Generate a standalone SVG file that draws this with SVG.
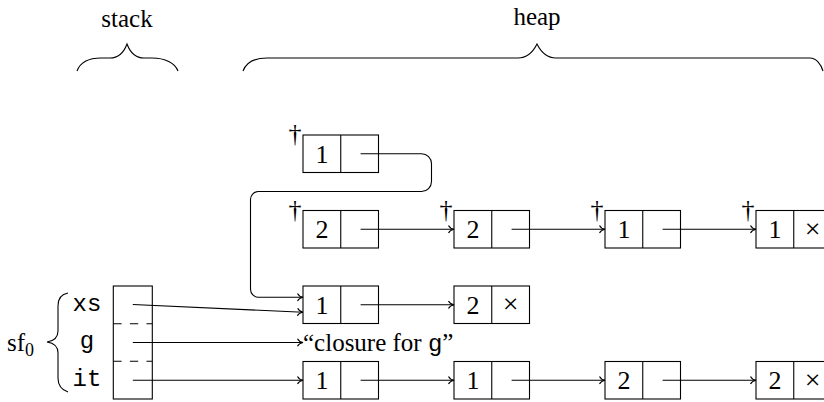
<svg xmlns="http://www.w3.org/2000/svg" width="824" height="402" viewBox="0 0 824 402">
<defs>
<marker id="to" markerUnits="userSpaceOnUse" markerWidth="10" markerHeight="10" refX="0" refY="0" orient="auto" overflow="visible">
<path d="M-5.5,-3.8 C-4.4,-1.6 -1.6,-0.3 0,0 C-1.6,0.3 -4.4,1.6 -5.5,3.8" fill="none" stroke="#000" stroke-width="1.1"/>
</marker>
</defs>
<style>
.box{fill:none;stroke:#000;stroke-width:1.1}
.ln{fill:none;stroke:#000;stroke-width:1.1}
.ar{fill:none;stroke:#000;stroke-width:1.1;marker-end:url(#to)}
.dash{fill:none;stroke:#000;stroke-width:1.1;stroke-dasharray:8.3 8.3}
text{fill:#000}
.t{font-size:25px}
.d{font-size:26px;text-anchor:middle}
.x{font-size:28px;text-anchor:middle}
.m{font-size:24px;text-anchor:middle}
.dg{font-size:26px;text-anchor:middle}
</style>
<g id="labels" font-family="Liberation Serif, DejaVu Serif, serif">
<text class="t" x="127" y="27" text-anchor="middle">stack</text>
<text class="t" x="537" y="25" text-anchor="middle">heap</text>
<path class="ln" d="M77,71 C80,63 88,58 101,58 L110,58 C118,58 124,52 127,44 C130,52 136,58 144,58 L152,58 C165,58 175,63 178,71"/>
<path class="ln" d="M243,71 C246,63 254,58 267,58 L518,58 C528,58 533,52 537,44 C541,52 546,58 556,58 L810,58 C816,58 821,64 823,71"/>
</g>
<g id="frame">
<text class="t" x="7" y="351" font-family="Liberation Serif, DejaVu Serif, serif">sf<tspan font-size="18" dy="5">0</tspan></text>
<path class="ln" d="M68,293 C62,294 58,298 58,306 L58,331 C58,338 54,341 47,342 C54,343 58,346 58,353 L58,378 C58,386 62,390 68,392"/>
<g font-family="Liberation Mono, DejaVu Sans Mono, monospace">
<text class="m" x="87" y="311">xs</text>
<text class="m" x="87" y="348">g</text>
<text class="m" x="87" y="386">it</text>
</g>
<rect class="box" x="113.3" y="286" width="39" height="113"/>
<line class="dash" x1="113.3" y1="323.7" x2="152.3" y2="323.7"/>
<line class="dash" x1="113.3" y1="361.3" x2="152.3" y2="361.3"/>
</g>
<g font-family="Liberation Serif, DejaVu Serif, serif">
<g id="r1c1"><text class="dg" x="295" y="142">†</text><rect class="box" x="303" y="135" width="75.5" height="37.5"/><line class="ln" x1="340.75" y1="135" x2="340.75" y2="172.5"/><text class="d" x="322" y="162.5">1</text></g>
<g id="r2c1"><text class="dg" x="295" y="217.5">†</text><rect class="box" x="303" y="210.5" width="75.5" height="37.5"/><line class="ln" x1="340.75" y1="210.5" x2="340.75" y2="248"/><text class="d" x="322" y="238">2</text></g>
<g id="r2c2"><text class="dg" x="446" y="217.5">†</text><rect class="box" x="454" y="210.5" width="75.5" height="37.5"/><line class="ln" x1="491.75" y1="210.5" x2="491.75" y2="248"/><text class="d" x="473" y="238">2</text></g>
<g id="r2c3"><text class="dg" x="597" y="217.5">†</text><rect class="box" x="605" y="210.5" width="75.5" height="37.5"/><line class="ln" x1="642.75" y1="210.5" x2="642.75" y2="248"/><text class="d" x="624" y="238">1</text></g>
<g id="r2c4"><text class="dg" x="748" y="217.5">†</text><rect class="box" x="756" y="210.5" width="75.5" height="37.5"/><line class="ln" x1="793.75" y1="210.5" x2="793.75" y2="248"/><text class="d" x="775" y="238">1</text><text class="x" x="812.6" y="237.5">×</text></g>
<g id="r3c1"><rect class="box" x="303" y="286" width="75.5" height="37.5"/><line class="ln" x1="340.75" y1="286" x2="340.75" y2="323.5"/><text class="d" x="322" y="313.5">1</text></g>
<g id="r3c2"><rect class="box" x="454" y="286" width="75.5" height="37.5"/><line class="ln" x1="491.75" y1="286" x2="491.75" y2="323.5"/><text class="d" x="473" y="313.5">2</text><text class="x" x="510.6" y="313">×</text></g>
<g id="closure"><text class="t" x="303" y="351">“closure for <tspan font-family="Liberation Mono, DejaVu Sans Mono, monospace" font-size="24">g</tspan>”</text></g>
<g id="r4c1"><rect class="box" x="303" y="361.5" width="75.5" height="37.5"/><line class="ln" x1="340.75" y1="361.5" x2="340.75" y2="399"/><text class="d" x="322" y="389">1</text></g>
<g id="r4c2"><rect class="box" x="454" y="361.5" width="75.5" height="37.5"/><line class="ln" x1="491.75" y1="361.5" x2="491.75" y2="399"/><text class="d" x="473" y="389">1</text></g>
<g id="r4c3"><rect class="box" x="605" y="361.5" width="75.5" height="37.5"/><line class="ln" x1="642.75" y1="361.5" x2="642.75" y2="399"/><text class="d" x="624" y="389">2</text></g>
<g id="r4c4"><rect class="box" x="756" y="361.5" width="75.5" height="37.5"/><line class="ln" x1="793.75" y1="361.5" x2="793.75" y2="399"/><text class="d" x="775" y="389">2</text><text class="x" x="812.6" y="388.5">×</text></g>
</g>
<g id="connectors">
<path class="ar" d="M360.6,153.75 L421.5,153.75 A10,10 0 0 1 431.5,163.75 L431.5,181.5 A10,10 0 0 1 421.5,191.5 L258.5,191.5 A8,8 0 0 0 250.5,199.5 L250.5,289.3 A8,8 0 0 0 258.5,297.3 L303,297.3"/>
<path class="ar" d="M360.6,229.25 L454,229.25"/>
<path class="ar" d="M511.6,229.25 L605,229.25"/>
<path class="ar" d="M662.6,229.25 L756,229.25"/>
<path class="ar" d="M132.8,304.5 L303,312.3"/>
<path class="ar" d="M360.6,304.75 L454,304.75"/>
<path class="ar" d="M132.8,342.5 L303,342.5"/>
<path class="ar" d="M132.8,380.25 L303,380.25"/>
<path class="ar" d="M360.6,380.25 L454,380.25"/>
<path class="ar" d="M511.6,380.25 L605,380.25"/>
<path class="ar" d="M662.6,380.25 L756,380.25"/>
</g>
</svg>
